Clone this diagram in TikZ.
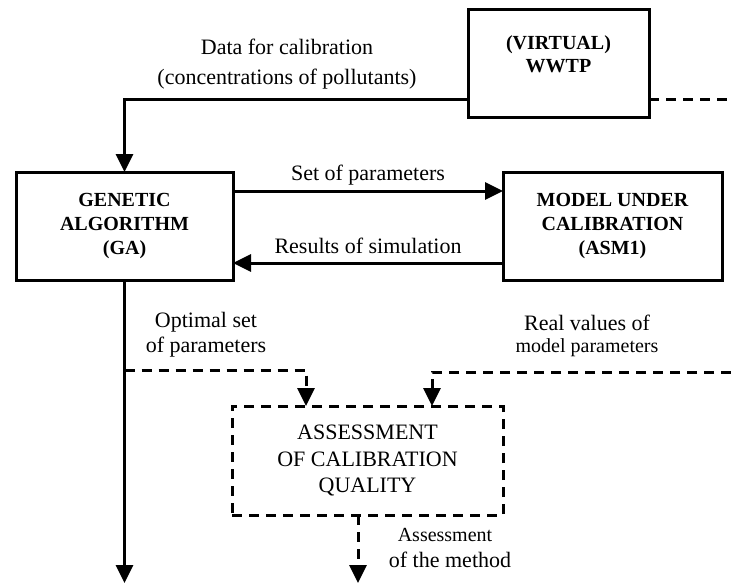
\documentclass[tikz,border=0pt]{standalone}
\usepackage{fontspec}
\setmainfont{Liberation Serif}
\usetikzlibrary{arrows.meta}
\begin{document}
\begin{tikzpicture}[x=1pt,y=-1pt,
  box/.style={draw, line width=3pt, inner sep=0pt, outer sep=0pt, align=center,
    font=\bfseries\fontsize{20}{24}\selectfont},
  dbox/.style={draw, line width=3pt, dash pattern=on 10pt off 7pt, inner sep=0pt, outer sep=0pt,
    align=center, font=\fontsize{22}{26.5}\selectfont},
  lbl/.style={align=center, inner sep=0pt, font=\fontsize{22}{25}\selectfont},
  slbl/.style={align=center, inner sep=0pt, font=\fontsize{20}{25}\selectfont},
  conn/.style={line width=3pt},
  arr/.style={line width=3pt, -{Triangle[length=18pt,width=17pt]}},
  darr/.style={line width=3pt, dash pattern=on 10pt off 7pt, -{Triangle[length=18pt,width=17pt]}},
  dline/.style={line width=3pt, dash pattern=on 10pt off 7pt}]
\useasboundingbox (0,0) rectangle (731,584);

% boxes
\node[box, minimum width=181pt, minimum height=108pt] (wwtp) at (558.5,63) {};
\node[inner sep=0pt, align=center, font=\bfseries\fontsize{20}{23}\selectfont] (wwtptxt) at (558.5,54) {(VIRTUAL)\\WWTP};
\node[box, minimum width=217pt, minimum height=108pt] (ga) at (124.5,226) {GENETIC\\ALGORITHM\\(GA)};
\node[box, minimum width=219pt, minimum height=108pt] (model) at (612.5,226) {MODEL UNDER\\CALIBRATION\\(ASM1)};
\node[dbox, minimum width=271pt, minimum height=109pt] (ass) at (367.5,460.5) {ASSESSMENT\\OF CALIBRATION\\QUALITY};

% labels
\node[lbl, font=\fontsize{22}{30}\selectfont] (ldata) at (287,64) {Data for calibration\\(concentrations of pollutants)};
\node[lbl] (lset) at (368,175) {Set of parameters};
\node[lbl] (lres) at (368,246) {Results of simulation};
\node[lbl] (lopt) at (206,335) {Optimal set\\of parameters};
\node[lbl] (lreal) at (587,323) {Real values of};
\node[slbl] (lreal2) at (587,348) {model parameters};
\node[slbl] (lam) at (445,535) {Assessment};
\node[lbl] (lam2) at (450,560) {of the method};

% coordinates
\coordinate (d1) at (124.5,99);
\coordinate (wr) at (731,99);
\coordinate (s1) at (0,191);
\coordinate (s2) at (0,263);
\coordinate (gb) at (124.5,583);
\coordinate (o1) at (124.5,370);
\coordinate (o2) at (306,370);
\coordinate (r1) at (731,372);
\coordinate (r2) at (432,372);
\coordinate (am) at (358,583);

% connectors
\draw[arr] (wwtp.west |- d1) -- (d1) -- (ga.north);
\draw[dline] (wwtp.east |- d1) -- (wr);
\draw[arr] (ga.east |- s1) -- (model.west |- s1);
\draw[arr] (model.west |- s2) -- (ga.east |- s2);
\draw[arr] (ga.south) -- (gb);
\draw[darr] (o1) -- (o2) -- (o2 |- ass.north);
\draw[darr] (r1) -- (r2) -- (r2 |- ass.north);
\draw[darr] (ass.south -| am) -- (am);
\end{tikzpicture}
\end{document}
